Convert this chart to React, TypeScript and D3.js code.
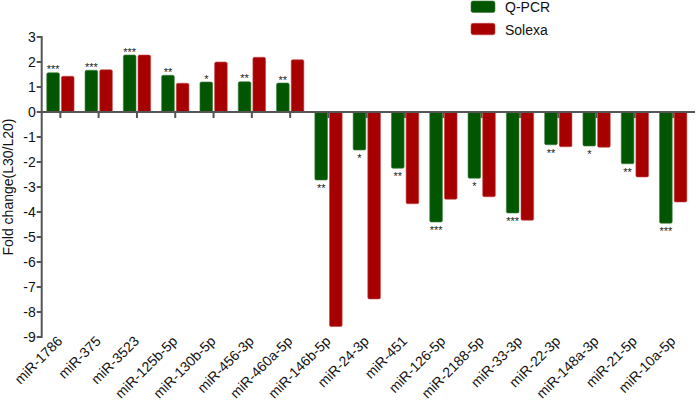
import React from "react";
import * as d3 from "d3";

const categories = [
  "miR-1786", "miR-375", "miR-3523", "miR-125b-5p", "miR-130b-5p", "miR-456-3p",
  "miR-460a-5p", "miR-146b-5p", "miR-24-3p", "miR-451", "miR-126-5p", "miR-2188-5p",
  "miR-33-3p", "miR-22-3p", "miR-148a-3p", "miR-21-5p", "miR-10a-5p",
];
const qpcr = [1.57, 1.67, 2.28, 1.47, 1.2, 1.21, 1.16, -2.72, -1.52, -2.25, -4.4, -2.65, -4.04, -1.31, -1.36, -2.07, -4.45];
const solexa = [1.43, 1.69, 2.28, 1.15, 2.0, 2.19, 2.09, -8.58, -7.48, -3.67, -3.49, -3.39, -4.33, -1.39, -1.41, -2.6, -3.6];
const significance = ["***", "***", "***", "**", "*", "**", "**", "**", "*", "**", "***", "*", "***", "**", "*", "**", "***"];
const seriesNames = ["Q-PCR", "Solexa"];
const yTicks = [3, 2, 1, 0, -1, -2, -3, -4, -5, -6, -7, -8, -9];

const colors = ["#025602", "#a60000"];
const strokes = ["#3d7d3d", "#c24a4a"];
const axisColor = "#555555";
const font = "'Liberation Sans', Arial, sans-serif";

export default function App() {
  const W = 697, H = 402;
  const x = d3.scaleBand<string>().domain(categories).range([41.2, 692.3]).padding(0);
  const x1 = d3.scaleBand<string>().domain(seriesNames).range([-13.6, 13.7]).paddingInner(0.137);
  const y = d3.scaleLinear().domain([-9, 3]).range([337, 37]);
  const y0 = y(0);
  const axisX = 41.7;
  const series = [qpcr, solexa];

  return (
    <svg width={W} height={H} style={{ position: "absolute", left: 0, top: 0, background: "#fff" }} fontFamily={font}>
      {categories.map((c) => {
        const cx = (x(c) as number) + x.bandwidth() / 2;
        return <line key={"xt" + c} x1={cx} x2={cx} y1={y0} y2={y0 + 6} stroke={axisColor} strokeWidth={2} />;
      })}
      {categories.map((c, i) => {
        const cx = (x(c) as number) + x.bandwidth() / 2;
        return (
          <g key={"g" + c}>
            {series.map((s, k) => {
              const v = s[i];
              const yTop = Math.min(y(v), y0);
              const h = Math.abs(y(v) - y0);
              return (
                <rect
                  key={k}
                  x={cx + (x1(seriesNames[k]) as number)}
                  y={yTop}
                  width={x1.bandwidth()}
                  height={h}
                  rx={1.5}
                  fill={colors[k]}
                  stroke={strokes[k]}
                  strokeWidth={0.6}
                />
              );
            })}
          </g>
        );
      })}
      {categories.map((c, i) => {
        const cx = (x(c) as number) + x.bandwidth() / 2 + (x1("Q-PCR") as number) + x1.bandwidth() / 2;
        const v = qpcr[i];
        const yy = v >= 0 ? y(v) + 0.5 : y(v) + 12;
        return (
          <text key={"s" + c} x={cx} y={yy} fontSize={11} textAnchor="middle" fill="#1a1a1a">
            {significance[i]}
          </text>
        );
      })}
      <line x1={axisX - 1} x2={695} y1={y0} y2={y0} stroke={axisColor} strokeWidth={2} />
      <line x1={axisX} x2={axisX} y1={y(3) - 1} y2={y(-9) + 1} stroke={axisColor} strokeWidth={2} />
      {yTicks.map((t) => (
        <g key={"yt" + t}>
          <line x1={axisX - 5} x2={axisX} y1={y(t)} y2={y(t)} stroke={axisColor} strokeWidth={2} />
          <text x={axisX - 6} y={y(t)} dy="0.35em" fontSize={14} textAnchor="end" fill="#111">
            {t}
          </text>
        </g>
      ))}
      <text transform={`translate(13,187) rotate(-90)`} fontSize={14} textAnchor="middle" fill="#111">
        Fold change(L30/L20)
      </text>
      {categories.map((c) => {
        const cx = (x(c) as number) + x.bandwidth() / 2;
        return (
          <text key={"xl" + c} transform={`translate(${cx + 3},342) rotate(-45)`} fontSize={14} textAnchor="end" fill="#111">
            {c}
          </text>
        );
      })}
      {seriesNames.map((n, k) => (
        <g key={"lg" + n} transform={`translate(471,${1 + k * 22.3})`}>
          <rect x={0} y={0} width={24} height={11.5} rx={2} fill={colors[k]} stroke={strokes[k]} strokeWidth={0.6} />
          <text x={34} y={11.3} fontSize={14} fill="#111">
            {n}
          </text>
        </g>
      ))}
    </svg>
  );
}
